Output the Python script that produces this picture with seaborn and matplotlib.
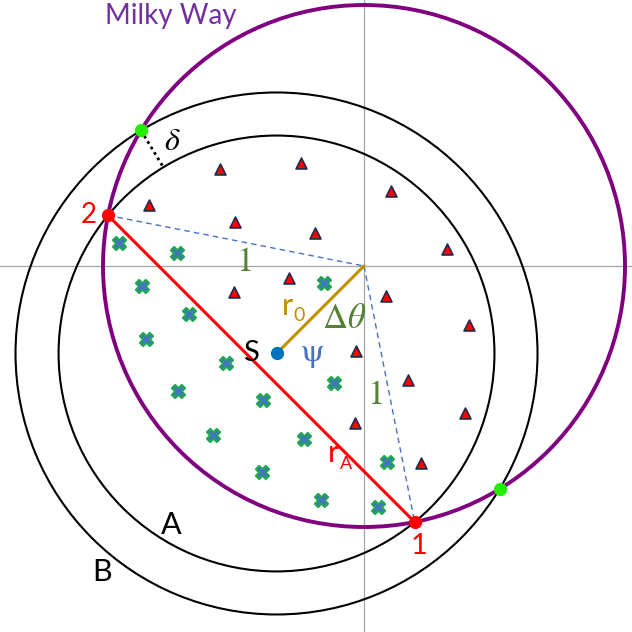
import numpy as np
import pandas as pd
import matplotlib
matplotlib.use("Agg")
import matplotlib.pyplot as plt
from matplotlib.patches import Circle
import seaborn as sns

# ---- geometry (Milky Way radius = 1) ----
R_MW = 1.0          # Milky Way radius
r0 = 0.474          # distance of S from the centre
s_angle_deg = 225.0 # direction of S from the centre
r_A = 0.835         # radius of circle A around S
r_B = 1.0           # radius of circle B around S

# ---- sample positions ----
tri_x = [-0.552, -0.243, -0.824, -0.493, -0.188, 0.103, 0.318, -0.286,
         -0.497, 0.084, 0.401, -0.031, 0.169, 0.388, -0.033, 0.218]
tri_y = [0.372, 0.396, 0.234, 0.167, 0.125, 0.289, 0.065, -0.045,
         -0.098, -0.114, -0.227, -0.326, -0.436, -0.562, -0.602, -0.754]
crs_x = [-0.939, -0.716, -0.851, -0.670, -0.153, -0.835, -0.529, -0.713,
         -0.387, -0.579, -0.230, -0.391, -0.165, -0.115, 0.088, 0.054]
crs_y = [0.088, 0.050, -0.077, -0.184, -0.065, -0.280, -0.372, -0.479,
         -0.513, -0.648, -0.663, -0.789, -0.897, -0.448, -0.751, -0.923]

W = H = 632
DPI = 100
SCALE = 261.0                 # pixels per unit radius
ORIGIN_PX = (364.0, 266.0)    # where the centre sits in the image

sns.set_theme(style="white")
plt.rcParams["font.family"] = ["Lato", "DejaVu Sans"]
plt.rcParams["mathtext.fontset"] = "stix"

fig = plt.figure(figsize=(W / DPI, H / DPI), dpi=DPI)
ax = fig.add_axes([0, 0, 1, 1])
ax.set_xlim(-ORIGIN_PX[0] / SCALE, (W - ORIGIN_PX[0]) / SCALE)
ax.set_ylim(-(H - ORIGIN_PX[1]) / SCALE, ORIGIN_PX[1] / SCALE)
ax.set_aspect("equal")
ax.axis("off")

PURPLE = "#800080"
PURPLE_TXT = "#7030a0"
RED = "#ff0000"
GOLD = "#bf9000"
OLIVE = "#548235"
BLUE = "#4472c4"
SBLUE = "#0070c0"
LIME = "#22ee00"

S = np.array([r0 * np.cos(np.radians(s_angle_deg)), r0 * np.sin(np.radians(s_angle_deg))])
O = np.array([0.0, 0.0])


def circle_intersections(c1, ra, c2, rb):
    d = np.linalg.norm(c2 - c1)
    a = (ra ** 2 - rb ** 2 + d ** 2) / (2 * d)
    h = np.sqrt(ra ** 2 - a ** 2)
    u = (c2 - c1) / d
    m = c1 + a * u
    perp = np.array([-u[1], u[0]])
    return m + h * perp, m - h * perp


# points 1 and 2: circle A meets the Milky Way
pA1, pA2 = circle_intersections(O, R_MW, S, r_A)
p2, p1 = (pA1, pA2) if pA1[0] < pA2[0] else (pA2, pA1)
# green points: circle B meets the Milky Way
pB1, pB2 = circle_intersections(O, R_MW, S, r_B)
g_left, g_right = (pB1, pB2) if pB1[0] < pB2[0] else (pB2, pB1)

# axes through the centre
ax.axhline(0, color="#a6a6a6", lw=0.9, zorder=1)
ax.axvline(0, color="#a6a6a6", lw=0.9, zorder=1)

# circles
ax.add_patch(Circle(tuple(S), r_A, fill=False, ec="black", lw=1.5, zorder=2))
ax.add_patch(Circle(tuple(S), r_B, fill=False, ec="black", lw=1.5, zorder=2))
ax.add_patch(Circle((0, 0), R_MW, fill=False, ec=PURPLE, lw=2.8, zorder=3))

# dashed unit radii to points 1 and 2
ax.plot([p2[0], 0], [p2[1], 0], ls=(0, (4, 3)), color=BLUE, lw=1.0, zorder=2)
ax.plot([0, p1[0]], [0, p1[1]], ls=(0, (4, 3)), color=BLUE, lw=1.0, zorder=2)

# r0 from centre to S
ax.plot([0, S[0]], [0, S[1]], color=GOLD, lw=2.2, zorder=4)
# chord 2 - S - 1 (length 2 r_A)
ax.plot([p2[0], p1[0]], [p2[1], p1[1]], color=RED, lw=2.2, zorder=4)

# delta: radial gap between A and B
u = (g_left - S) / np.linalg.norm(g_left - S)
dA = S + r_A * u
ax.plot([g_left[0], dA[0]], [g_left[1], dA[1]], ls=(0, (1, 1.3)), color="black", lw=2.0, zorder=4)

# samples
tri = pd.DataFrame({"x": tri_x, "y": tri_y})
crs = pd.DataFrame({"x": crs_x, "y": crs_y})
sns.scatterplot(data=tri, x="x", y="y", marker="^", s=62, color=RED,
                edgecolor="#1f2a4d", linewidth=1.2, ax=ax, zorder=5, legend=False)
sns.scatterplot(data=crs, x="x", y="y", marker="X", s=90, color=BLUE,
                edgecolor="#1fa84f", linewidth=1.5, ax=ax, zorder=5, legend=False)

# special points
ax.plot([p1[0], p2[0]], [p1[1], p2[1]], "o", ms=8.5, color=RED, mec=RED, zorder=6)
ax.plot([g_left[0], g_right[0]], [g_left[1], g_right[1]], "o", ms=8.5, color=LIME, mec=LIME, zorder=6)
ax.plot([S[0]], [S[1]], "o", ms=8.5, color=SBLUE, mec=SBLUE, zorder=6)
ax.set_xlabel("")
ax.set_ylabel("")


def label(x, y, s, **kw):
    fig.text(x / W, 1 - y / H, s, **kw)


label(171, 24, "Milky Way", color=PURPLE_TXT, fontsize=20, ha="center", va="baseline")
label(172, 141, r"$\delta$", color="black", fontsize=23, ha="center", va="center")
label(89, 223, "2", color=RED, fontsize=20, ha="center", va="baseline")
label(243.5, 271, r"$\mathrm{1}$", color=OLIVE, fontsize=25, ha="center", va="baseline")
label(282, 315, "r", color=GOLD, fontsize=22, ha="left", va="baseline")
label(293, 321, "0", color=GOLD, fontsize=14, ha="left", va="baseline")
label(344, 328, r"$\Delta\theta$", color=OLIVE, fontsize=25, ha="center", va="baseline")
label(250.5, 361, "S", color="black", fontsize=21, ha="center", va="baseline")
label(312.5, 355, r"$\mathrm{\psi}$", color=BLUE, fontsize=24, ha="center", va="center")
label(375, 404, r"$\mathrm{1}$", color=OLIVE, fontsize=25, ha="center", va="baseline")
label(328, 462, "r", color=RED, fontsize=22, ha="left", va="baseline")
label(339.5, 469, "A", color=RED, fontsize=13, ha="left", va="baseline")
label(419.5, 554, "1", color=RED, fontsize=21, ha="center", va="baseline")
label(171.5, 534, "A", color="black", fontsize=22, ha="center", va="baseline")
label(102, 581, "B", color="black", fontsize=22, ha="center", va="baseline")

fig.savefig("out.png", dpi=DPI, facecolor="white")
